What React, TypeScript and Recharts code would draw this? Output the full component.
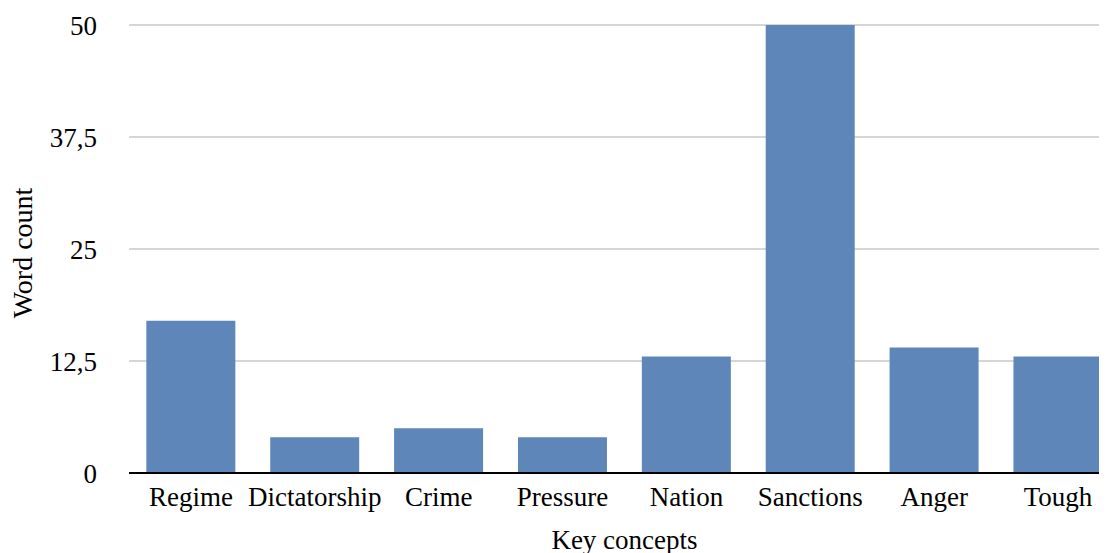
import { BarChart, Bar, XAxis, YAxis, CartesianGrid, Label } from 'recharts'

const concepts = ['Regime', 'Dictatorship', 'Crime', 'Pressure', 'Nation', 'Sanctions', 'Anger', 'Tough']
const wordCounts = [17, 4, 5, 4, 13, 50, 14, 13]
const yTicks = [0, 12.5, 25, 37.5, 50]

const data = concepts.map((concept, i) => ({ concept, count: wordCounts[i] }))

const font = 'Liberation Serif'

const formatTick = (value: number) => String(value).replace('.', ',')

export default function App() {
    return (
        <div style={{ width: 1099, height: 545, overflow: 'hidden', fontFamily: font }}>
            <style>{`.recharts-wrapper text { font-family: 'Liberation Serif', 'DejaVu Serif', serif !important; }`}</style>
            <BarChart
                width={1112}
                height={545}
                data={data}
                margin={{ top: 17, right: 0, left: 0, bottom: 0 }}
                barCategoryGap="14%"
            >
                <CartesianGrid vertical={false} stroke="#c8c8c8" strokeWidth={1.5} />
                <XAxis
                    dataKey="concept"
                    height={80}
                    axisLine={{ stroke: '#000', strokeWidth: 2 }}
                    tickLine={false}
                    tickSize={0}
                    tickMargin={14}
                    tick={{ fill: '#000', fontSize: 27 }}
                    interval={0}
                >
                    <Label
                        value="Key concepts"
                        position="insideBottom"
                        offset={4}
                        style={{ fill: '#000', fontSize: 27 }}
                    />
                </XAxis>
                <YAxis
                    width={121}
                    domain={[0, 50]}
                    ticks={yTicks}
                    axisLine={false}
                    tickLine={false}
                    tickSize={8}
                    tickMargin={24}
                    tickFormatter={formatTick}
                    tick={{ fill: '#000', fontSize: 27 }}
                >
                    <Label
                        value="Word count"
                        angle={-90}
                        position="insideLeft"
                        offset={14}
                        viewBox={{ x: 0, y: 21, width: 121, height: 448 }}
                        style={{ fill: '#000', fontSize: 28, textAnchor: 'middle' }}
                    />
                </YAxis>
                <Bar dataKey="count" fill="#5e86b9" isAnimationActive={false} />
            </BarChart>
        </div>
    )
}
